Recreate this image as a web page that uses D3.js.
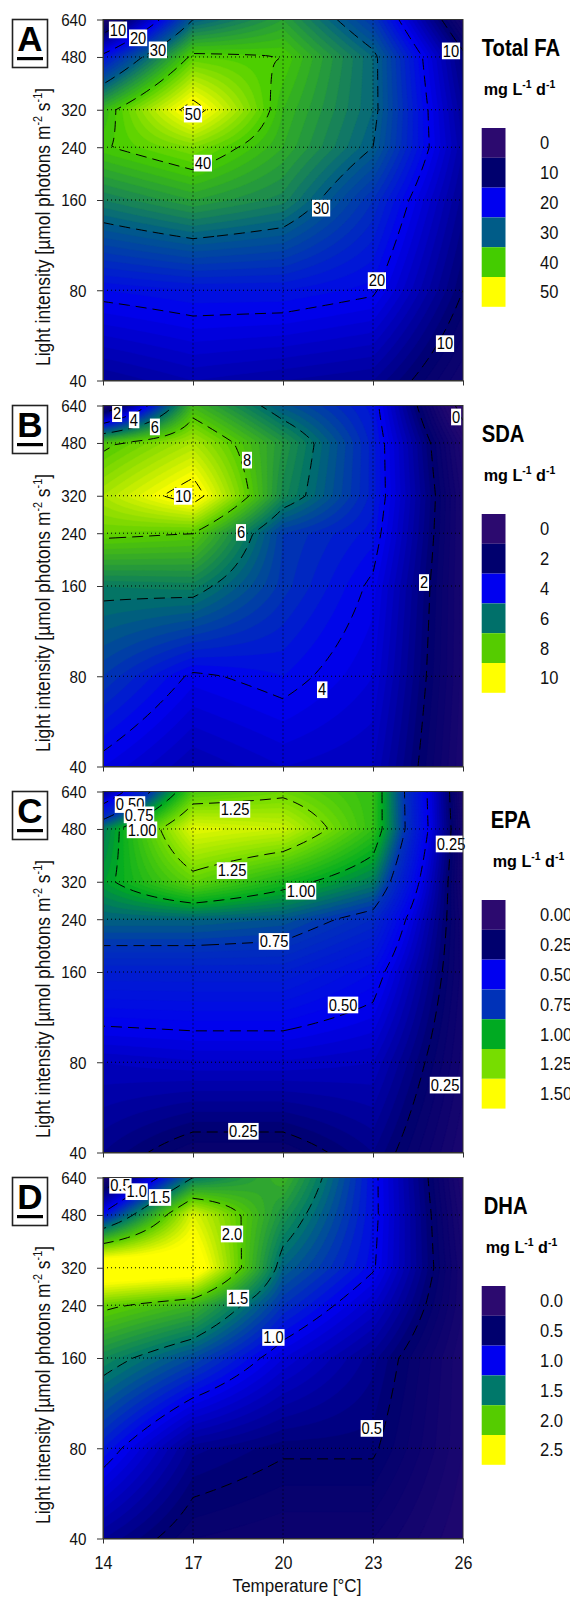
<!DOCTYPE html>
<html>
<head>
<meta charset="utf-8">
<script src="https://cdn.jsdelivr.net/npm/d3@7"></script>
<style>
  body { margin: 0; background: #fff; }
  svg { display: block; font-family: "Liberation Sans", Arial, sans-serif; }
</style>
</head>
<body>
<svg id="chart" width="570" height="1597"></svg>
<script>
// grid of the response surfaces: rows = light 40 -> 640, columns = temperature
var temps = [14, 17, 20, 23, 26];
var lights = [40, 80, 160, 240, 320, 480, 640];
var tempTicks = [14, 17, 20, 23, 26];
var lightTicks = [40, 80, 160, 240, 320, 480, 640];

var totalFA = [
  [13, 15, 14, 13, 6],
  [21, 22, 22, 20.5, 10],
  [33, 36, 33.5, 25, 12.5],
  [39.7, 43, 37, 30, 14],
  [38, 52, 38, 31, 13],
  [21.5, 41, 40, 31, 11],
  [3, 30, 36, 26, 5]
];
var sda = [
  [3.8, 3.0, 3.4, 3.2, 0.8],
  [5.0, 3.9, 4.2, 3.6, 0.9],
  [6.2, 6.3, 4.9, 3.9, 0.9],
  [8.2, 8.0, 5.0, 4.3, 0.9],
  [9.0, 10.5, 6.5, 4.5, 0.9],
  [7.8, 9.0, 6.8, 4.5, 0.6],
  [0.5, 7.5, 5.5, 4.3, -0.4]
];
var epa = [
  [0.30, 0.20, 0.20, 0.30, 0.10],
  [0.40, 0.42, 0.42, 0.40, 0.14],
  [0.65, 0.65, 0.65, 0.55, 0.16],
  [0.85, 0.85, 0.82, 0.70, 0.15],
  [0.97, 1.20, 1.05, 0.90, 0.12],
  [0.90, 1.45, 1.40, 1.10, 0.12],
  [0.30, 1.15, 1.22, 1.10, 0.10]
];
var dha = [
  [0.65, 0.40, 0.35, 0.35, 0.15],
  [1.10, 0.62, 0.52, 0.52, 0.20],
  [1.60, 1.30, 0.90, 0.62, 0.20],
  [2.05, 1.85, 1.20, 0.85, 0.25],
  [2.80, 2.70, 1.40, 1.02, 0.25],
  [1.05, 2.40, 1.65, 1.05, 0.20],
  [0.20, 1.50, 1.85, 1.05, 0.15]
];

// legend levels and their colours
var faLevels = [0, 10, 20, 30, 40, 50];
var faColors = ["#2c0a6f", "#00006e", "#0000f0", "#005c88", "#44cc00", "#ffff00"];
var sdaLevels = [0, 2, 4, 6, 8, 10];
var sdaColors = ["#2c0a6f", "#00006e", "#0000f0", "#00706a", "#55cc00", "#ffff00"];
var epaLevels = [0, 0.25, 0.5, 0.75, 1.0, 1.25, 1.5];
var epaColors = ["#2c0a6f", "#00006e", "#0000f0", "#0032b8", "#00aa22", "#77dd00", "#ffff00"];
var dhaLevels = [0, 0.5, 1.0, 1.5, 2.0, 2.5];
var dhaColors = ["#2c0a6f", "#00006e", "#0000f0", "#00786a", "#55cc00", "#ffff00"];

// contour lines and their labels [text, temperature, light]
var faLines = [10, 20, 30, 40, 50];
var faLabels = [["10", 14.5, 590], ["20", 15.17, 555], ["30", 15.83, 506], ["50", 17, 309],
  ["40", 17.33, 212], ["30", 21.27, 150], ["20", 23.13, 86], ["10", 25.6, 502], ["10", 25.4, 53]];
var sdaLines = [0, 2, 4, 6, 8, 10];
var sdaLabels = [["2", 14.47, 600], ["4", 15.03, 572], ["6", 15.73, 542], ["10", 16.67, 318],
  ["8", 18.8, 420], ["6", 18.6, 241], ["4", 21.3, 72], ["2", 24.7, 164], ["0", 25.77, 585]];
var epaLines = [0.25, 0.5, 0.75, 1.0, 1.25];
var epaLabels = [["0.50", 14.9, 578], ["0.75", 15.2, 534], ["1.00", 15.3, 476], ["1.25", 18.4, 557],
  ["1.25", 18.3, 348], ["1.00", 20.6, 297], ["0.75", 19.7, 202], ["0.50", 22.0, 124],
  ["0.25", 25.6, 427], ["0.25", 25.4, 67], ["0.25", 18.68, 47]];
var dhaLines = [0.5, 1.0, 1.5, 2.0];
var dhaLabels = [["0.5", 14.58, 602], ["1.0", 15.12, 573], ["1.5", 15.9, 548], ["2.0", 18.3, 414],
  ["1.5", 18.5, 253], ["1.0", 19.68, 187], ["0.5", 22.96, 93]];

var panels = [
  { letter: "A", title: "Total FA", grid: totalFA, levels: faLevels, colors: faColors,
    lines: faLines, labels: faLabels, fmt: d3.format("d"), lo: -2, hi: 56, step: 1, dx: 0 },
  { letter: "B", title: "SDA", grid: sda, levels: sdaLevels, colors: sdaColors,
    lines: sdaLines, labels: sdaLabels, fmt: d3.format("d"), lo: -1, hi: 11.5, step: 0.2, dx: 0 },
  { letter: "C", title: "EPA", grid: epa, levels: epaLevels, colors: epaColors,
    lines: epaLines, labels: epaLabels, fmt: d3.format(".2f"), lo: 0, hi: 1.6, step: 0.025, dx: 9 },
  { letter: "D", title: "DHA", grid: dha, levels: dhaLevels, colors: dhaColors,
    lines: dhaLines, labels: dhaLabels, fmt: d3.format(".1f"), lo: 0, hi: 2.9, step: 0.05, dx: 2 }
];

var SX = 0.92;              // the original lettering is a bit narrow
var plotLeft = 103, plotRight = 463;
var plotH = 361, firstTop = 19.5, panelStep = 386;
var NX = 121, NY = 121;     // sampling of the surface

var svg = d3.select("#chart");
var x = d3.scaleLinear().domain([14, 26]).range([plotLeft, plotRight]);

function locate(arr, v, f) {
  var i = d3.bisectRight(arr, v) - 1;
  i = Math.max(0, Math.min(arr.length - 2, i));
  var a = f(arr[i]), b = f(arr[i + 1]);
  return [i, Math.max(0, Math.min(1, (f(v) - a) / (b - a)))];
}

function surface(grid, t, l) {
  var cx = locate(temps, t, function (d) { return d; });
  var cy = locate(lights, l, Math.log);
  var i = cx[0], u = cx[1], j = cy[0], v = cy[1];
  return (1 - u) * (1 - v) * grid[j][i] + u * (1 - v) * grid[j][i + 1] +
         (1 - u) * v * grid[j + 1][i] + u * v * grid[j + 1][i + 1];
}

function squeezed(sel, px, py, s) {
  return sel.attr("transform", "translate(" + px + "," + py + ") scale(" + (s || SX) + ",1)");
}

panels.forEach(function (p, k) {
  var top = firstTop + k * panelStep, bottom = top + plotH;
  var y = d3.scaleLog().domain([40, 640]).range([bottom, top]);
  var color = d3.scaleLinear().domain(p.levels).range(p.colors).clamp(true);
  var g = svg.append("g").attr("class", "panel-" + p.letter);

  g.append("clipPath").attr("id", "clip" + k)
    .append("rect").attr("x", plotLeft).attr("y", top)
    .attr("width", plotRight - plotLeft).attr("height", plotH);

  // sample the surface on a regular screen grid
  var values = new Array(NX * NY);
  for (var r = 0; r < NY; r++) {
    var l = y.invert(top + r * plotH / (NY - 1));
    for (var c = 0; c < NX; c++) {
      var t = x.invert(plotLeft + c * (plotRight - plotLeft) / (NX - 1));
      values[r * NX + c] = surface(p.grid, t, l);
    }
  }
  var gx = d3.scaleLinear().domain([0.5, NX - 0.5]).range([plotLeft, plotRight]);
  var gy = d3.scaleLinear().domain([0.5, NY - 0.5]).range([top, bottom]);
  var path = d3.geoPath(d3.geoTransform({
    point: function (px, py) { this.stream.point(gx(px), gy(py)); }
  }));

  var plot = g.append("g").attr("clip-path", "url(#clip" + k + ")");

  var bands = d3.range(p.lo, p.hi, p.step);
  plot.append("g").selectAll("path")
    .data(d3.contours().size([NX, NY]).thresholds(bands)(values))
    .join("path")
    .attr("d", path)
    .attr("fill", function (d) { return color(d.value + p.step / 2); })
    .attr("stroke", function (d) { return color(d.value + p.step / 2); })
    .attr("stroke-width", 0.4);

  // dotted grid at the sampled levels
  plot.append("g").selectAll("line.v")
    .data(tempTicks.slice(1, -1))
    .join("line")
    .attr("x1", x).attr("x2", x).attr("y1", top).attr("y2", bottom)
    .attr("stroke", "#000").attr("stroke-width", 1).attr("stroke-dasharray", "1,3");
  plot.append("g").selectAll("line.h")
    .data(lightTicks.slice(1, -1))
    .join("line")
    .attr("y1", y).attr("y2", y).attr("x1", plotLeft).attr("x2", plotRight)
    .attr("stroke", "#000").attr("stroke-width", 1).attr("stroke-dasharray", "1,3");

  plot.append("g").selectAll("path")
    .data(d3.contours().size([NX, NY]).thresholds(p.lines)(values))
    .join("path")
    .attr("d", path)
    .attr("fill", "none")
    .attr("stroke", "#000")
    .attr("stroke-width", 1)
    .attr("stroke-dasharray", "11,6");

  // contour labels on white boxes
  p.labels.forEach(function (d) {
    var lab = g.append("g").attr("transform", "translate(" + x(d[1]) + "," + y(d[2]) + ")");
    var txt = lab.append("text")
      .attr("text-anchor", "middle")
      .attr("y", 5.5)
      .attr("transform", "scale(" + SX + ",1)")
      .style("font-size", "16px")
      .text(d[0]);
    var bb = txt.node().getBBox();
    lab.insert("rect", "text")
      .attr("x", (bb.x - 1) * SX).attr("y", bb.y + 0.5)
      .attr("width", (bb.width + 2) * SX).attr("height", bb.height - 1)
      .attr("fill", "#fff");
  });

  g.append("rect")
    .attr("x", plotLeft).attr("y", top)
    .attr("width", plotRight - plotLeft).attr("height", plotH)
    .attr("fill", "none").attr("stroke", "#333").attr("stroke-width", 1);

  // axes
  var ay = g.append("g").attr("transform", "translate(" + plotLeft + ",0)")
    .call(d3.axisLeft(y).tickValues(lightTicks).tickFormat(d3.format("d"))
      .tickSize(6).tickSizeOuter(0).tickPadding(12));
  ay.selectAll("text").style("font-size", "16.5px").attr("fill", "#111")
    .attr("dy", "0.36em").attr("transform", "scale(" + SX + ",1)");
  ay.selectAll("line, path").attr("stroke", "#333");

  var ax = g.append("g").attr("transform", "translate(0," + bottom + ")")
    .call(d3.axisBottom(x).tickValues(tempTicks)
      .tickFormat(k === panels.length - 1 ? d3.format("d") : function () { return ""; })
      .tickSize(5).tickSizeOuter(0).tickPadding(13));
  ax.selectAll("text").style("font-size", "17.5px").attr("fill", "#111")
    .attr("transform", "scale(" + SX + ",1)");
  ax.selectAll("line, path").attr("stroke", "#333");

  // y axis title, set in a narrow cut
  var cy = (top + bottom) / 2 + 27;
  var yt = g.append("text")
    .attr("transform", "translate(50," + cy + ") rotate(-90) scale(0.83,1)")
    .attr("text-anchor", "middle")
    .style("font-size", "21px").attr("fill", "#111");
  yt.append("tspan").text("Light intensity [\u00b5mol photons m");
  yt.append("tspan").attr("dy", -8).style("font-size", "13px").text("-2");
  yt.append("tspan").attr("dy", 8).text(" s");
  yt.append("tspan").attr("dy", -8).style("font-size", "13px").text("-1");
  yt.append("tspan").attr("dy", 8).text("]");

  // panel letter
  g.append("rect").attr("x", 12.5).attr("y", top).attr("width", 35).attr("height", 48)
    .attr("fill", "#fff").attr("stroke", "#222").attr("stroke-width", 1.6);
  g.append("text").attr("x", 30).attr("y", top + 31).attr("text-anchor", "middle")
    .style("font-size", "35px").style("font-weight", "bold").text(p.letter);
  g.append("rect").attr("x", 17).attr("y", top + 37.5).attr("width", 26).attr("height", 3.2)
    .attr("fill", "#000");

  // legend
  var lx = 481.7;
  squeezed(g.append("text"), lx + p.dx, top + 36, 0.88)
    .style("font-size", "23px").style("font-weight", "bold").text(p.title);
  var un = squeezed(g.append("text"), lx + 2 + p.dx, top + 75, 0.95)
    .style("font-size", "17px").style("font-weight", "bold");
  un.append("tspan").text("mg L");
  un.append("tspan").attr("dy", -7).style("font-size", "11px").text("-1");
  un.append("tspan").attr("dy", 7).text(" d");
  un.append("tspan").attr("dy", -7).style("font-size", "11px").text("-1");

  var boxH = 29.8, boxTop = top + 108.5;
  g.append("g").selectAll("rect")
    .data(p.levels)
    .join("rect")
    .attr("x", lx).attr("y", function (d, i) { return boxTop + i * boxH; })
    .attr("width", 23.8).attr("height", boxH)
    .attr("fill", function (d) { return color(d); });
  g.append("g").selectAll("text")
    .data(p.levels)
    .join("text")
    .attr("transform", function (d, i) {
      return "translate(540," + (boxTop + i * boxH + boxH / 2 + 6.5) + ") scale(" + SX + ",1)";
    })
    .style("font-size", "18px").attr("fill", "#111")
    .text(p.fmt);
});

squeezed(svg.append("text"), 297, 1592).attr("text-anchor", "middle")
  .style("font-size", "18.5px").attr("fill", "#111").text("Temperature [\u00b0C]");
</script>
</body>
</html>
